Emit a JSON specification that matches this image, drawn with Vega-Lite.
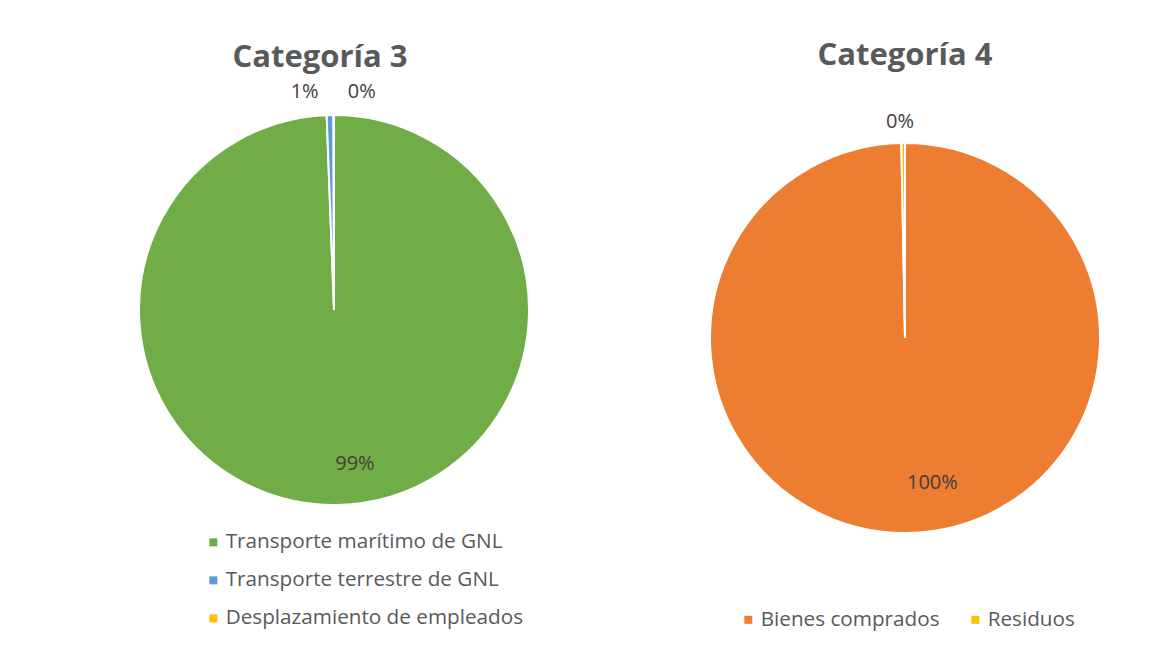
{
  "$schema": "https://vega.github.io/schema/vega-lite/v6.json",
  "autosize": {"type": "pad"},
  "padding": {"left": 124, "top": 40, "right": 0, "bottom": 12},
  "background": "white",
  "bounds": "flush",
  "spacing": 151,
  "resolve": {"scale": {"color": "independent"}, "legend": {"color": "independent"}},
  "config": {
    "view": {"stroke": null},
    "font": "Open Sans",
    "title": {"font": "Open Sans", "fontSize": 31, "fontWeight": "bold", "color": "#595959", "anchor": "middle", "frame": "group"},
    "legend": {"labelFont": "Open Sans", "labelFontSize": 20.7, "labelColor": "#595959", "labelLimit": 0, "symbolType": "square", "symbolSize": 64, "symbolStrokeWidth": 0, "labelOffset": 2, "title": null}
  },
  "hconcat": [
    {
      "title": {"text": "Categoría 3", "offset": 8, "dx": -14},
      "width": 420,
      "height": 420,
      "data": {"values": [
        {"categoria": "Transporte marítimo de GNL", "valor": 99.4, "orden": 1, "etiqueta": "99%"},
        {"categoria": "Transporte terrestre de GNL", "valor": 0.56, "orden": 2, "etiqueta": "1%"},
        {"categoria": "Desplazamiento de empleados", "valor": 0.04, "orden": 3, "etiqueta": "0%"}
      ]},
      "encoding": {
        "theta": {"field": "valor", "type": "quantitative", "stack": true},
        "order": {"field": "orden", "type": "quantitative", "sort": "ascending"}
      },
      "layer": [
        {
          "mark": {"type": "arc", "outerRadius": 195, "stroke": "white", "strokeWidth": 2},
          "encoding": {
            "color": {
              "field": "categoria", "type": "nominal",
              "scale": {"domain": ["Transporte marítimo de GNL", "Transporte terrestre de GNL", "Desplazamiento de empleados"], "range": ["#70AD47", "#5B9BD5", "#FFC000"]},
              "legend": {"orient": "none", "legendX": 79, "legendY": 432, "direction": "vertical", "rowPadding": 16}
            }
          }
        },
        {
          "mark": {"type": "text", "radius": 154, "dx": 18, "fontSize": 20, "color": "#404040", "align": "center", "baseline": "middle"},
          "encoding": {"text": {"field": "etiqueta", "type": "nominal", "condition": {"test": "datum.orden !== 1", "value": ""}}}
        },
        {
          "mark": {"type": "text", "radius": 218, "dx": -25, "fontSize": 20, "color": "#404040", "align": "center", "baseline": "middle"},
          "encoding": {"text": {"field": "etiqueta", "type": "nominal", "condition": {"test": "datum.orden !== 2", "value": ""}}}
        },
        {
          "mark": {"type": "text", "radius": 218, "dx": 28, "fontSize": 20, "color": "#404040", "align": "center", "baseline": "middle"},
          "encoding": {"text": {"field": "etiqueta", "type": "nominal", "condition": {"test": "datum.orden !== 3", "value": ""}}}
        }
      ]
    },
    {
      "title": {"text": "Categoría 4", "offset": 28},
      "width": 420,
      "height": 476,
      "data": {"values": [
        {"categoria": "Bienes comprados", "valor": 99.7, "orden": 1, "etiqueta": "100%"},
        {"categoria": "Residuos", "valor": 0.3, "orden": 2, "etiqueta": "0%"}
      ]},
      "encoding": {
        "theta": {"field": "valor", "type": "quantitative", "stack": true},
        "order": {"field": "orden", "type": "quantitative", "sort": "ascending"}
      },
      "layer": [
        {
          "mark": {"type": "arc", "outerRadius": 195, "stroke": "white", "strokeWidth": 2},
          "encoding": {
            "color": {
              "field": "categoria", "type": "nominal",
              "scale": {"domain": ["Bienes comprados", "Residuos"], "range": ["#ED7D31", "#FFC000"]},
              "legend": {"orient": "none", "legendX": 43, "legendY": 509, "direction": "horizontal", "columns": 2, "columnPadding": 25}
            }
          }
        },
        {
          "mark": {"type": "text", "radius": 145, "dx": 26, "fontSize": 20, "color": "#404040", "align": "center", "baseline": "middle"},
          "encoding": {"text": {"field": "etiqueta", "type": "nominal", "condition": {"test": "datum.orden !== 1", "value": ""}}}
        },
        {
          "mark": {"type": "text", "radius": 216, "dx": -3, "fontSize": 20, "color": "#404040", "align": "center", "baseline": "middle"},
          "encoding": {"text": {"field": "etiqueta", "type": "nominal", "condition": {"test": "datum.orden !== 2", "value": ""}}}
        }
      ]
    }
  ]
}
